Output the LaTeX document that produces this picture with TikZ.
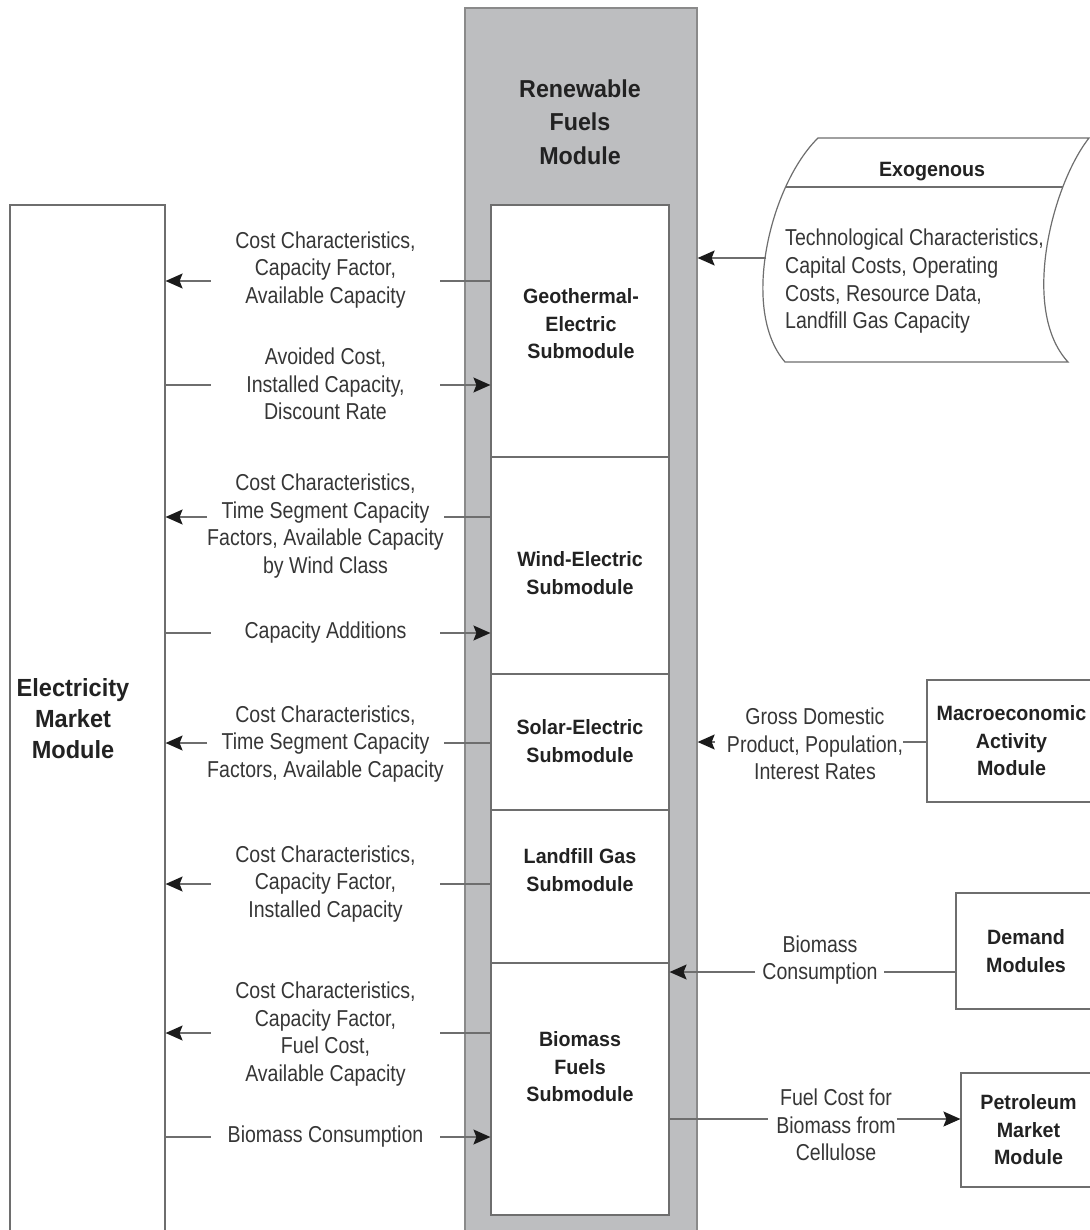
\documentclass[tikz,border=0pt]{standalone}
\usepackage{fontspec}
\setmainfont{Liberation Sans}[FakeStretch=0.85,BoldFeatures={FakeStretch=0.95}]
\usetikzlibrary{arrows.meta}
\definecolor{linegray}{HTML}{6E6E6E}
\definecolor{colfill}{HTML}{BDBEC0}
\definecolor{colline}{HTML}{8A8A8A}
\definecolor{txt}{HTML}{363636}
\definecolor{btxt}{HTML}{222222}
\definecolor{tipcol}{HTML}{1A1A1A}

\begin{document}
\begin{tikzpicture}[x=1pt,y=-1pt,
  conn/.style={draw=linegray,line width=1.2pt},
  arr/.style={conn,-{Stealth[length=17pt,width=15pt,inset=3pt,color=tipcol,fill=tipcol]}},
  lab/.style={inner sep=0pt,align=center,text=txt,font=\fontsize{23}{27.7}\selectfont},
  sidelab/.style={lab,minimum width=229pt},
  subbox/.style={draw=linegray,fill=white,line width=1.2pt,minimum width=178pt,inner sep=0pt},
  subtxt/.style={inner sep=0pt,align=center,text=btxt,font=\fontsize{20.7}{27.5}\selectfont\bfseries},
  extbox/.style={draw=linegray,fill=white,line width=1.2pt,inner sep=0pt,align=center,text=btxt,
    font=\fontsize{20.7}{27.5}\selectfont\bfseries}
]
\useasboundingbox (0,0) rectangle (1089,1230);
\fill[white] (0,0) rectangle (1089,1230);

% Electricity Market Module (runs off the bottom edge)
\node[extbox,minimum width=155pt,minimum height=1035pt] (elec) at (87.5,722.5) {};
\node[inner sep=0pt,align=center,text=btxt,font=\fontsize{24.8}{31}\selectfont\bfseries]
  (electxt) at (73,719) {Electricity\\Market\\Module};

% Renewable Fuels Module column
\node[draw=colline,fill=colfill,line width=1.3pt,minimum width=232pt,minimum height=1240pt,inner sep=0pt]
  (rfm) at (581,628) {};
\node[inner sep=0pt,align=center,text=btxt,font=\fontsize{24.5}{33.5}\selectfont\bfseries]
  (rfmtxt) at (580,122) {Renewable\\Fuels\\Module};

% Submodules
\node[subbox,minimum height=252pt] (geo) at (580,331) {};
\node[subbox,minimum height=217pt] (wind) at (580,565.5) {};
\node[subbox,minimum height=136pt] (solar) at (580,742) {};
\node[subbox,minimum height=153pt] (land) at (580,886.5) {};
\node[subbox,minimum height=252pt] (bio) at (580,1089) {};
\node[subtxt] (geotxt) at (581,324) {Geothermal-\\Electric\\Submodule};
\node[subtxt] (windtxt) at (580,573) {Wind-Electric\\Submodule};
\node[subtxt] (solartxt) at (580,741) {Solar-Electric\\Submodule};
\node[subtxt] (landtxt) at (580,870) {Landfill Gas\\Submodule};
\node[subtxt] (biotxt) at (580,1067) {Biomass\\Fuels\\Submodule};

% Outside modules on the right
\node[extbox,minimum width=169pt,minimum height=122pt] (macro) at (1011.5,741) {Macroeconomic\\Activity\\Module};
\node[extbox,minimum width=140pt,minimum height=116pt] (demand) at (1026,951) {Demand\\Modules};
\node[extbox,minimum width=135pt,minimum height=114pt] (pet) at (1028.5,1130) {Petroleum\\Market\\Module};

% Exogenous data (curved-side storage symbol)
\draw[conn,fill=white] (818,138) -- (1089,138)
  .. controls (1052,185) and (1020,310) .. (1068,362) -- (785,362)
  .. controls (740,310) and (770,185) .. (818,138) -- cycle;
\draw[conn] (786,187) -- (1063,187);
\node[subtxt] (exohead) at (932,172) {Exogenous};
\node[lab,align=left,anchor=west] (exotxt) at (785,281.5)
  {Technological Characteristics,\\Capital Costs, Operating\\Costs, Resource Data,\\Landfill Gas Capacity};
\coordinate (exoW) at (766,258);

% Row heights of the flows on the left
\coordinate (y1) at (0,281);
\coordinate (y2) at (0,385);
\coordinate (y3) at (0,517);
\coordinate (y4) at (0,633);
\coordinate (y5) at (0,743);
\coordinate (y6) at (0,884);
\coordinate (y7) at (0,1033);
\coordinate (y8) at (0,1137);

% Flow labels on the left
\node[sidelab] (l1) at (325.5,270) {Cost Characteristics,\\Capacity Factor,\\Available Capacity};
\node[sidelab] (l2) at (325.5,384) {Avoided Cost,\\Installed Capacity,\\Discount Rate};
\node[sidelab] (l3) at (325.5,526) {Cost Characteristics,\\Time Segment Capacity\\Factors, Available Capacity\\by Wind Class};
\node[sidelab] (l4) at (325.5,633) {Capacity Additions};
\node[sidelab] (l5) at (325.5,744) {Cost Characteristics,\\Time Segment Capacity\\Factors, Available Capacity};
\node[sidelab] (l6) at (325.5,884) {Cost Characteristics,\\Capacity Factor,\\Installed Capacity};
\node[sidelab] (l7) at (325.5,1034) {Cost Characteristics,\\Capacity Factor,\\Fuel Cost,\\Available Capacity};
\node[sidelab] (l8) at (325.5,1137) {Biomass Consumption};

% Submodules -> Electricity Market Module
\draw[conn] (geo.west |- y1) -- (l1.east |- y1);
\draw[arr] (l1.west |- y1) -- (elec.east |- y1);
\draw[conn] (wind.west |- y3) -- (l3.east |- y3);
\draw[arr] (l3.west |- y3) -- (elec.east |- y3);
\draw[conn] (solar.west |- y5) -- (l5.east |- y5);
\draw[arr] (l5.west |- y5) -- (elec.east |- y5);
\draw[conn] (land.west |- y6) -- (l6.east |- y6);
\draw[arr] (l6.west |- y6) -- (elec.east |- y6);
\draw[conn] (bio.west |- y7) -- (l7.east |- y7);
\draw[arr] (l7.west |- y7) -- (elec.east |- y7);

% Electricity Market Module -> submodules
\draw[conn] (elec.east |- y2) -- (l2.west |- y2);
\draw[arr] (l2.east |- y2) -- (geo.west |- y2);
\draw[conn] (elec.east |- y4) -- (l4.west |- y4);
\draw[arr] (l4.east |- y4) -- (wind.west |- y4);
\draw[conn] (elec.east |- y8) -- (l8.west |- y8);
\draw[arr] (l8.east |- y8) -- (bio.west |- y8);

% Right-hand flows
\draw[arr] (exoW) -- (rfm.east |- exoW);

\coordinate (ym) at (0,742);
\node[lab] (macL) at (815,744) {Gross Domestic\\Product, Population,\\Interest Rates};
\draw[conn] (macro.west |- ym) -- (macL.east |- ym);
\draw[arr,shorten <=12pt] (macL.west |- ym) -- (rfm.east |- ym);

\coordinate (yd) at (0,972);
\node[lab] (demL) at (820,960) {Biomass\\Consumption};
\draw[conn,shorten >=6pt] (demand.west |- yd) -- (demL.east |- yd);
\draw[arr,shorten <=7pt] (demL.west |- yd) -- (bio.east |- yd);

\coordinate (yp) at (0,1119);
\node[lab] (petL) at (836,1125) {Fuel Cost for\\Biomass from\\Cellulose};
\draw[conn,shorten >=8pt] (bio.east |- yp) -- (petL.west |- yp);
\draw[arr,shorten <=1pt] (petL.east |- yp) -- (pet.west |- yp);
\end{tikzpicture}
\end{document}
